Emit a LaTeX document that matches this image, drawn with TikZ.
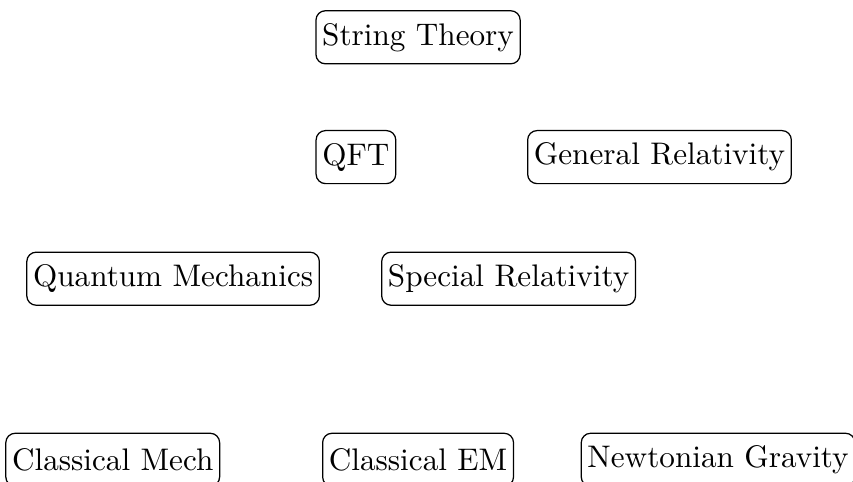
\documentclass[tikz,border=0pt]{standalone}
\usepackage{tikz}
\usetikzlibrary{positioning}

\begin{document}
\begin{tikzpicture}[
    theory/.style={draw, rounded corners=3pt, inner xsep=2pt, minimum height=17pt}
]
    \useasboundingbox (0,0) rectangle (9.61,-5.43);

    % Top
    \node[theory] (string) at (4.71,-0.42) {String Theory};

    % Second row
    \node[theory] (qft) at (4.01,-1.77) {QFT};
    \node[theory] (gr) at (7.43,-1.77) {General Relativity};

    % Third row
    \node[theory] (qm) at (1.95,-3.14) {Quantum Mechanics};
    \node[theory] (sr) at (5.73,-3.14) {Special Relativity};

    % Classical
    \node[theory] (cm) at (1.27,-5.18) {Classical Mech};
    \node[theory] (em) at (4.71,-5.18) {Classical EM};
    \node[theory] (ng) at (8.09,-5.18) {Newtonian Gravity};
\end{tikzpicture}
\end{document}
